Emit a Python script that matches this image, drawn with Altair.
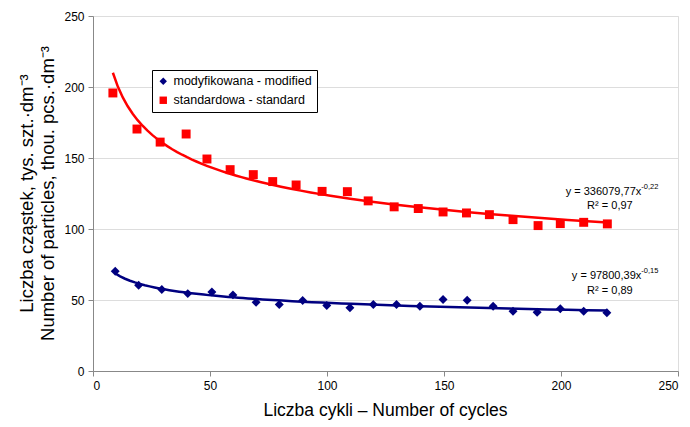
import altair as alt
import pandas as pd

# --- data ---
series_names = ["modyfikowana - modified", "standardowa - standard"]
series_colors = ["#000080", "#FF0000"]
series_shapes = ["diamond", "square"]

cycles_mod = [9.5, 19.5, 29.4, 40.5, 50.8, 59.8, 69.7, 79.6, 89.6, 99.9, 109.8,
              119.8, 129.7, 139.7, 149.6, 159.9, 171.0, 179.5, 189.8, 199.7, 209.7, 219.6]
particles_mod = [70.2, 60.4, 57.4, 54.5, 55.7, 53.6, 48.4, 46.8, 49.6, 46.1, 44.5,
                 46.8, 46.8, 45.6, 50.3, 49.8, 45.6, 42.1, 41.4, 43.8, 42.1, 41.0]

cycles_std = [8.5, 18.8, 28.7, 39.8, 48.7, 58.6, 68.5, 76.8, 86.8, 97.9, 108.7,
              117.6, 128.7, 139.0, 149.6, 159.6, 169.4, 179.5, 190.2, 199.7, 209.7, 219.8]
particles_std = [195.8, 170.4, 161.2, 166.9, 149.3, 141.8, 138.3, 133.4, 131.0, 126.5, 126.3,
                 119.8, 115.6, 114.4, 112.0, 111.3, 110.1, 106.6, 102.4, 103.8, 104.7, 103.6]

axis_ticks = [0, 50, 100, 150, 200, 250]

# trendline equation labels (text, anchor in data units)
eq_text = ["y = 336079,77x", "y = 97800,39x"]
eq_exp = ["-0,22", "-0,15"]
eq_x = [234.3, 234.3]
eq_y = [126.1, 66.7]
exp_y = [129.8, 70.6]
r2_text = ["R² = 0,97", "R² = 0,89"]
r2_x = [220.9, 220.9]
r2_y = [116.0, 56.2]

df = pd.DataFrame({
    "series": [series_names[0]] * len(cycles_mod) + [series_names[1]] * len(cycles_std),
    "x": cycles_mod + cycles_std,
    "y": particles_mod + particles_std,
})

ann = pd.DataFrame({"eq": eq_text, "exp": eq_exp, "ex": eq_x, "ey": eq_y, "py": exp_y,
                    "r2": r2_text, "rx": r2_x, "ry": r2_y})

FONT = "Liberation Sans"

xscale = alt.Scale(domain=[0, 250], nice=False)
yscale = alt.Scale(domain=[0, 250], nice=False)

x_enc = alt.X("x:Q", scale=xscale,
              axis=alt.Axis(values=axis_ticks, grid=False, title="Liczba cykli – Number of cycles",
                            titleFontSize=17.5, titleFont=FONT, titleFontWeight="normal",
                            titleX=292, titleY=39, titleBaseline="middle", titleColor="black",
                            labelPadding=4, labelFontSize=12, labelFont=FONT, labelColor="black"))
y_enc = alt.Y("y:Q", scale=yscale,
              axis=alt.Axis(values=axis_ticks, grid=True,
                            title=["Liczba cząstek, tys. szt.·dm⁻³", "Number of particles, thou. pcs.·dm⁻³"],
                            titleFontSize=18.5, titleFont=FONT, titleFontWeight="normal",
                            titleX=-57, titleY=177, titleAngle=-90, titleAlign="center",
                            titleBaseline="bottom", titleLineHeight=21, titleColor="black",
                            labelPadding=4, labelFontSize=12, labelFont=FONT, labelColor="black"))

legend = alt.Legend(title=None, orient="none", legendX=59, legendY=54,
                    strokeColor="black", fillColor="white", padding=5,
                    labelFont=FONT, labelFontSize=12.5, labelColor="black",
                    symbolSize=55, rowPadding=6, symbolStrokeWidth=0)
color = alt.Color("series:N", scale=alt.Scale(domain=series_names, range=series_colors), legend=legend)
shape = alt.Shape("series:N", scale=alt.Scale(domain=series_names, range=series_shapes), legend=legend)

base = alt.Chart(df)

points = base.mark_point(filled=True, size=80, opacity=1).encode(
    x=x_enc, y=y_enc, color=color, shape=shape)

trend = base.transform_regression("x", "y", method="pow", groupby=["series"]).mark_line(
    strokeWidth=2.5).encode(
    x=alt.X("x:Q", scale=xscale),
    y=alt.Y("y:Q", scale=yscale),
    color=alt.Color("series:N", scale=alt.Scale(domain=series_names, range=series_colors), legend=None))

annc = alt.Chart(ann)
eq_marks = annc.mark_text(align="right", baseline="middle", font=FONT, fontSize=11, color="black").encode(
    x=alt.X("ex:Q", scale=xscale), y=alt.Y("ey:Q", scale=yscale), text="eq:N")
exp_marks = annc.mark_text(align="left", baseline="middle", font=FONT, fontSize=7.5, color="black").encode(
    x=alt.X("ex:Q", scale=xscale), y=alt.Y("py:Q", scale=yscale), text="exp:N")
r2_marks = annc.mark_text(align="center", baseline="middle", font=FONT, fontSize=11, color="black").encode(
    x=alt.X("rx:Q", scale=xscale), y=alt.Y("ry:Q", scale=yscale), text="r2:N")

chart = alt.layer(points, trend, eq_marks, exp_marks, r2_marks).properties(
    width=585, height=355,
    autosize=alt.AutoSizeParams(type="none"),
    padding={"left": 85, "top": 8, "right": 3, "bottom": 52},
).configure_view(stroke="black", strokeWidth=1).configure_axis(
    labelFont=FONT, labelFontSize=12, labelColor="black",
    domainColor="black", tickColor="black", tickSize=5,
    gridColor="#808080", gridWidth=1.2,
).configure(background="white")

chart.save("out.html", embed_options={"renderer": "svg", "actions": False})
